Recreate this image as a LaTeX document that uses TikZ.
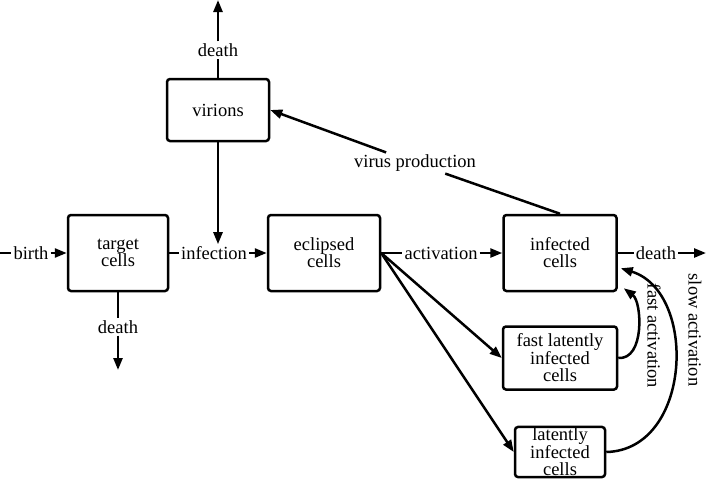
\documentclass[tikz,border=0pt]{standalone}
\usepackage{fontspec}
\setmainfont{Liberation Serif}
\usetikzlibrary{arrows.meta,calc}
\begin{document}
\begin{tikzpicture}[x=1pt,y=-1pt,
  every node/.style={font=\fontsize{18.5}{17}\selectfont},
  box/.style={draw,line width=2.5pt,rounded corners=3pt,align=center,inner sep=1pt},
  lbl/.style={inner sep=2pt},
  conn/.style={line width=2.5pt},
  arr/.style={line width=2.5pt,-{Triangle[length=12pt,width=9pt]}}]
\useasboundingbox (0,0) rectangle (708,479);
% boxes
\node[box,minimum width=100pt,minimum height=76pt] (target) at (118,253) {target\\cells};
\node[box,minimum width=102pt,minimum height=62pt] (virions) at (218,110) {virions};
\node[box,minimum width=112pt,minimum height=76pt] (eclipsed) at (324,253) {eclipsed\\cells};
\node[box,minimum width=113pt,minimum height=76pt] (infected) at (560,253) {infected\\cells};
\node[box,minimum width=114pt,minimum height=63pt] (fast) at (560,358) {fast latently\\infected\\cells};
\node[box,minimum width=90pt,minimum height=50pt] (lat) at (560,452) {latently\\infected\\cells};
% labels
\coordinate (bstart) at (0,253);
\node[lbl] (birth) at (31,253) {birth};
\node[lbl] (infl) at (214,253) {infection};
\node[lbl] (actl) at (441,253) {activation};
\node[lbl] (idl) at (656,253) {death};
\coordinate (iend) at (706,253);
\node[lbl] (vdl) at (218,50) {death};
\coordinate (vend) at (218,0);
\node[lbl] (tdl) at (118,327) {death};
\coordinate (tend) at (118,370);
\node[lbl] (vpl) at (415,163) {virus production};
\node[lbl,rotate=-90] (fal) at (654,336) {fast activation};
\node[lbl,rotate=-90] (sal) at (695,330) {slow activation};
\coordinate (infin) at (virions.south |- infl.north);
% connectors
\draw[conn] (bstart) -- (birth);
\draw[arr] (birth) -- (target);
\draw[conn] (target) -- (infl);
\draw[arr] (infl) -- (eclipsed);
\draw[arr] (virions.south) -- (infin);
\draw[conn] (virions) -- (vdl);
\draw[arr] (vdl) -- (vend);
\draw[conn] (target) -- (tdl);
\draw[arr] (tdl) -- (tend);
\draw[conn] (eclipsed) -- (actl);
\draw[arr] (actl) -- (infected);
\draw[conn] (infected) -- (idl);
\draw[arr] (idl) -- (iend);
\draw[conn] (infected.north) -- (vpl);
\draw[arr] (vpl) -- (virions.east);
\draw[arr] (eclipsed.east) -- (fast.west);
\draw[arr] (eclipsed.east) -- (lat.west);
\coordinate (fa) at ($(infected.south east)+(6,-4)$);
\coordinate (sa) at ($(infected.south east)+(3,-24)$);
\draw[arr] (fast.east) .. controls (645,360) and (642,302) .. (fa);
\draw[arr] (lat.east) .. controls (692,450) and (698,292) .. (sa);
\end{tikzpicture}
\end{document}
